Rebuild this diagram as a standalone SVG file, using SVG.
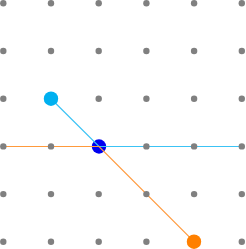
<svg xmlns="http://www.w3.org/2000/svg" width="246" height="249" viewBox="0 0 246 249">
<style>
.g{fill:#808080}
.ln{fill:none;stroke-width:1.2}
</style>
<rect width="246" height="249" fill="#fff"/>
<g id="center"><circle cx="99" cy="146.5" r="7.2" fill="#0000f0"/></g>
<g id="connectors">
<polyline class="ln" stroke="#3cc3f5" points="51,98.7 99,146.5 243,146.5"/>
<polyline class="ln" stroke="#ff9a3c" points="3.3,146.5 99,146.5 194,241.7"/>
</g>
<g id="grid">
<circle class="g" cx="3.3" cy="3.3" r="3.2"/><circle class="g" cx="51" cy="3.3" r="3.2"/><circle class="g" cx="98.7" cy="3.3" r="3.2"/><circle class="g" cx="146.4" cy="3.3" r="3.2"/><circle class="g" cx="194.1" cy="3.3" r="3.2"/><circle class="g" cx="241.8" cy="3.3" r="3.2"/>
<circle class="g" cx="3.3" cy="51" r="3.2"/><circle class="g" cx="51" cy="51" r="3.2"/><circle class="g" cx="98.7" cy="51" r="3.2"/><circle class="g" cx="146.4" cy="51" r="3.2"/><circle class="g" cx="194.1" cy="51" r="3.2"/><circle class="g" cx="241.8" cy="51" r="3.2"/>
<circle class="g" cx="3.3" cy="98.7" r="3.2"/><circle class="g" cx="98.7" cy="98.7" r="3.2"/><circle class="g" cx="146.4" cy="98.7" r="3.2"/><circle class="g" cx="194.1" cy="98.7" r="3.2"/><circle class="g" cx="241.8" cy="98.7" r="3.2"/>
<circle class="g" cx="3.3" cy="146.4" r="3.2"/><circle class="g" cx="51" cy="146.4" r="3.2"/><circle class="g" cx="146.4" cy="146.4" r="3.2"/><circle class="g" cx="194.1" cy="146.4" r="3.2"/><circle class="g" cx="241.8" cy="146.4" r="3.2"/>
<circle class="g" cx="3.3" cy="194.1" r="3.2"/><circle class="g" cx="51" cy="194.1" r="3.2"/><circle class="g" cx="98.7" cy="194.1" r="3.2"/><circle class="g" cx="146.4" cy="194.1" r="3.2"/><circle class="g" cx="194.1" cy="194.1" r="3.2"/><circle class="g" cx="241.8" cy="194.1" r="3.2"/>
<circle class="g" cx="3.3" cy="241.8" r="3.2"/><circle class="g" cx="51" cy="241.8" r="3.2"/><circle class="g" cx="98.7" cy="241.8" r="3.2"/><circle class="g" cx="146.4" cy="241.8" r="3.2"/><circle class="g" cx="241.8" cy="241.8" r="3.2"/>
</g>
<g id="start"><circle cx="51" cy="98.7" r="7.2" fill="#00b0f0"/></g>
<g id="end"><circle cx="194" cy="241.7" r="7.2" fill="#ff8000"/></g>
</svg>
